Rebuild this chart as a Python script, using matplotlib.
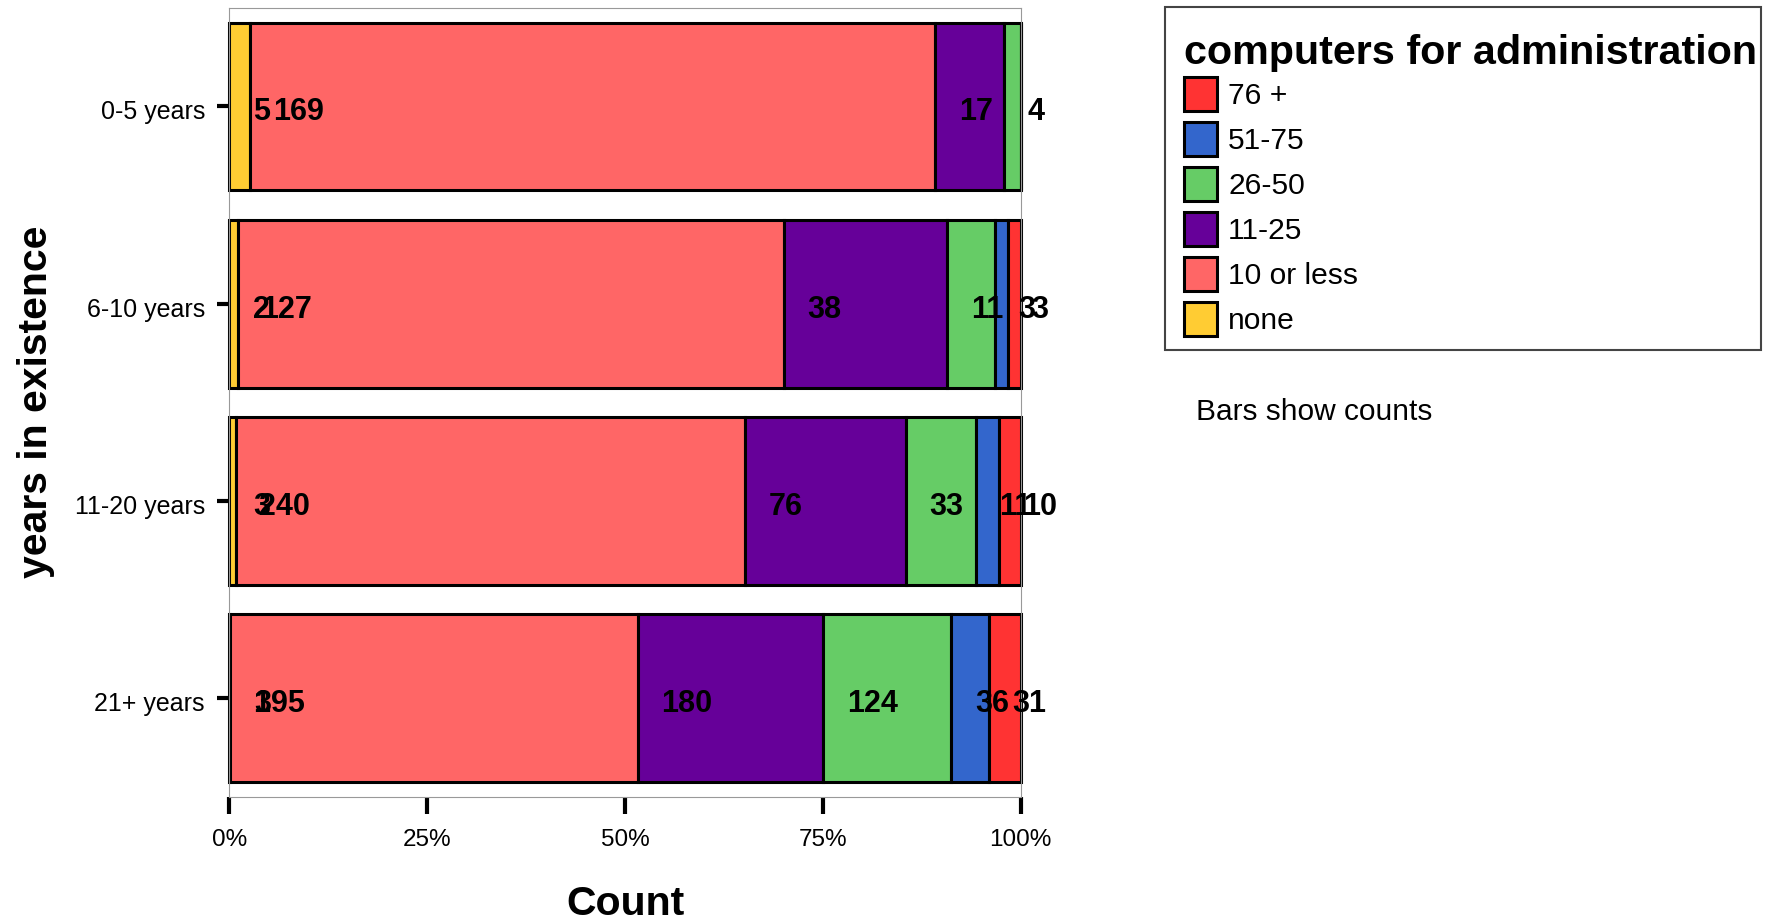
import matplotlib
matplotlib.use("Agg")
import matplotlib.pyplot as plt
import matplotlib.transforms as mtransforms
from matplotlib.patches import Rectangle
import numpy as np

plt.rcParams['font.family'] = ['Liberation Sans', 'DejaVu Sans']

years = ["0-5 years", "6-10 years", "11-20 years", "21+ years"]
groups = ["none", "10 or less", "11-25", "26-50", "51-75", "76 +"]
none_v = [5, 2, 3, 1]
le10_v = [169, 127, 240, 395]
c11_25 = [17, 38, 76, 180]
c26_50 = [4, 11, 33, 124]
c51_75 = [0, 3, 11, 36]
c76p = [0, 3, 10, 31]
colors = ["#FFCC33", "#FF6666", "#660099", "#66CC66", "#3366CC", "#FF3333"]
xticks = [0, 0.25, 0.5, 0.75, 1.0]
xticklabels = ["0%", "25%", "50%", "75%", "100%"]

W, H = 1772, 921
fig = plt.figure(figsize=(W / 100, H / 100), dpi=100)
ax = fig.add_axes([229.4 / W, (H - 796.7) / H, (1020.5 - 229.4) / W, (796.7 - 7.9) / H])

data = np.array([none_v, le10_v, c11_25, c26_50, c51_75, c76p], dtype=float)
totals = data.sum(axis=0)
props = data / totals
ypos = np.arange(len(years))
left = np.zeros(len(years))
handles = []
for i, g in enumerate(groups):
    bars = ax.barh(ypos, props[i], left=left, height=0.85, color=colors[i],
                   edgecolor="black", linewidth=2.2, label=g, clip_on=False, zorder=2)
    handles.append(bars)
    for j in range(len(years)):
        if data[i, j] > 0:
            ax.annotate(f"{int(data[i, j])}", xy=(left[j], ypos[j]), xytext=(23.5, -5.8),
                        textcoords="offset pixels", ha="left", va="center",
                        fontsize=22, fontweight="bold", color="black", zorder=5,
                        annotation_clip=False)
    left = left + props[i]

ax.set_xlim(0, 1)
ax.set_ylim(len(years) - 0.5, -0.5)
ax.set_yticks(ypos)
ax.set_yticklabels(years, fontsize=18)
ax.set_xticks(xticks)
ax.set_xticklabels(xticklabels, fontsize=17.5)
ax.tick_params(axis="y", length=8.6, width=3, pad=9, color="black")
ax.tick_params(axis="x", length=12, width=3, pad=11, color="black")
shift = mtransforms.ScaledTranslation(0, -3.5 / 100, fig.dpi_scale_trans)
for lab in ax.get_yticklabels():
    lab.set_transform(lab.get_transform() + shift)
for s in ax.spines.values():
    s.set_color("#999999")
    s.set_linewidth(0.8)

fig.text(626 / W, 1 - 903.5 / H, "Count", ha="center", va="center",
         fontsize=29.5, fontweight="bold")
fig.text(36 / W, 1 - 402 / H, "years in existence", ha="center", va="center",
         rotation=90, fontsize=29.5, fontweight="bold")

# legend frame
fig.add_artist(Rectangle((1165.2 / W, 1 - 350.3 / H), (1760.7 - 1165.2) / W, (350.3 - 6.8) / H,
                         transform=fig.transFigure, facecolor="white", edgecolor="#444444",
                         linewidth=1.5, zorder=1))

leg = fig.legend(handles[::-1], groups[::-1], loc="upper left",
                 bbox_to_anchor=(1171.4 / W, 1 - 21.7 / H), bbox_transform=fig.transFigure,
                 borderaxespad=0, fontsize=21.6, title="computers for administration",
                 title_fontproperties={"size": 29.7, "weight": "bold"},
                 fancybox=False, frameon=False, handlelength=1.1, handleheight=1.37,
                 labelspacing=0.37, handletextpad=0.37, borderpad=0.42,
                 alignment="left")
leg.set_zorder(3)
try:
    leg._legend_box.sep = 3.1
except Exception:
    pass

fig.text(1196 / W, 1 - 411.5 / H, "Bars show counts", ha="left", va="center", fontsize=21.5)

fig.savefig("out.png", dpi=100)
